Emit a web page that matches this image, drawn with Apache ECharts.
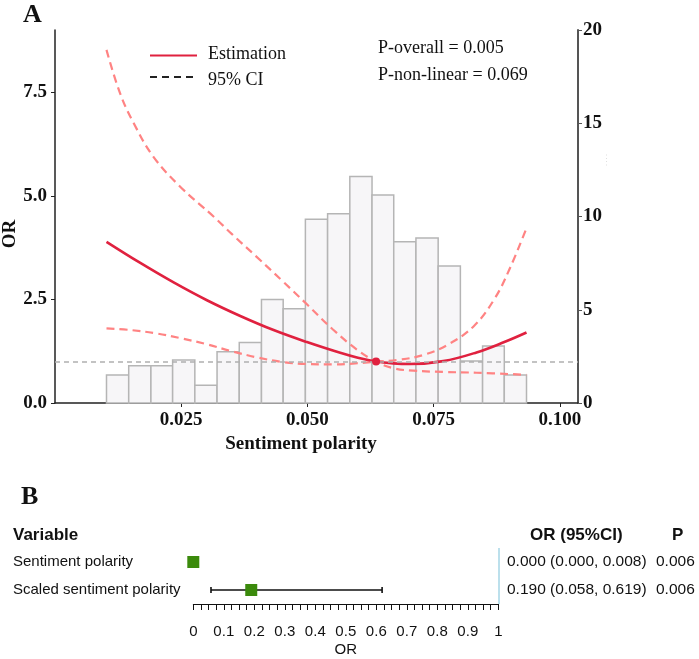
<!DOCTYPE html>
<html>
<head>
<meta charset="utf-8">
<script src="https://cdn.jsdelivr.net/npm/echarts@6/dist/echarts.min.js"></script>
<style>
  html, body { margin: 0; padding: 0; background: #fff; }
  #chart { width: 699px; height: 659px; }
</style>
</head>
<body>
<div id="chart"></div>
<script>
// panel A: restricted cubic spline estimate
const estX = [0.0102, 0.0169, 0.0235, 0.0301, 0.0367, 0.0433, 0.0499, 0.0565, 0.0600, 0.0636, 0.0670, 0.0703, 0.0769, 0.0835, 0.0890, 0.0934];
const estY = [3.89, 3.38, 2.91, 2.48, 2.10, 1.76, 1.47, 1.21, 1.09, 1.00, 0.955, 0.94, 1.01, 1.22, 1.47, 1.70];

// the two 95% CI bounds (they cross at the reference point)
const ciAX = [0.0102, 0.0129, 0.0156, 0.0195, 0.0248, 0.0314, 0.0350, 0.0400, 0.0450, 0.0500, 0.0550, 0.0600, 0.0636, 0.0670, 0.0710, 0.0769, 0.0835, 0.0934];
const ciAY = [8.52, 7.47, 6.75, 5.94, 5.22, 4.50, 4.08, 3.52, 2.95, 2.37, 1.78, 1.27, 1.00, 0.84, 0.78, 0.75, 0.73, 0.68];
const ciBX = [0.0102, 0.0150, 0.0200, 0.0250, 0.0300, 0.0350, 0.0400, 0.0450, 0.0500, 0.0550, 0.0600, 0.0636, 0.0680, 0.0730, 0.0780, 0.0830, 0.0870, 0.0900, 0.0934];
const ciBY = [1.80, 1.76, 1.68, 1.56, 1.42, 1.25, 1.10, 0.99, 0.94, 0.93, 0.96, 1.00, 1.04, 1.16, 1.42, 1.86, 2.50, 3.22, 4.22];
const refPoint = [0.0636, 1.0];

// histogram of sentiment polarity (right axis)
const binEdges = [0.0102, 0.0146, 0.0190, 0.0233, 0.0277, 0.0321, 0.0365, 0.0409, 0.0452, 0.0496, 0.0540,
                  0.0584, 0.0628, 0.0671, 0.0715, 0.0759, 0.0803, 0.0847, 0.0890, 0.0934];
const binCounts = [1.5, 2.0, 2.0, 2.3, 0.95, 2.75, 3.25, 5.55, 5.05, 9.85, 10.15, 12.15, 11.15, 8.65, 8.85, 7.35, 2.25, 3.05, 1.5];

const xTicks = [0.025, 0.050, 0.075, 0.100];
const leftTicks = [0, 2.5, 5, 7.5];

// panel B: forest plot
const variables = ['Sentiment polarity', 'Scaled sentiment polarity'];
const orValues = [0.000, 0.190];
const ciLow = [0.000, 0.058];
const ciHigh = [0.008, 0.619];
const pValues = ['0.006', '0.006'];

const serif = 'Liberation Serif, Times New Roman, serif';
const sans = 'Liberation Sans, Arial, sans-serif';
const pairs = (xs, ys) => xs.map((x, i) => [x, ys[i]]);
const rowVal = i => 3 - 2 * i;
const isMult = (v, step) => Math.abs(v / step - Math.round(v / step)) < 1e-6;

const chart = echarts.init(document.getElementById('chart'));

const ciStyle = { color: '#ff8383', width: 2.2, type: [8, 5] };

const option = {
  animation: false,
  grid: [
    { left: 55, top: 30, width: 523, height: 373 },
    { left: 193.3, top: 548, width: 305, height: 56 }
  ],
  xAxis: [
    {
      type: 'value', gridIndex: 0, min: 0, max: 0.1036, interval: 0.025,
      axisLine: { show: true, onZero: false, lineStyle: { color: '#222', width: 1.5 } },
      axisTick: { show: true, length: 4, lineStyle: { color: '#222' }, customValues: xTicks },
      axisLabel: {
        customValues: xTicks,
        formatter: v => (v > 0 && isMult(v, 0.025)) ? v.toFixed(3) : '',
        fontFamily: serif, fontWeight: 'bold', fontSize: 19, color: '#111', margin: 8
      },
      splitLine: { show: false }
    },
    {
      type: 'value', gridIndex: 1, min: 0, max: 1, interval: 0.025,
      axisLine: { show: true, onZero: false, lineStyle: { color: '#111', width: 1 } },
      axisTick: { show: true, length: 6, lineStyle: { color: '#111', width: 1 } },
      axisLabel: {
        formatter: v => isMult(v, 0.1) ? String(+v.toFixed(1)) : '',
        fontFamily: sans, fontSize: 15, color: '#111', margin: 20
      },
      splitLine: { show: false },
      name: 'OR', nameLocation: 'middle', nameGap: 38,
      nameTextStyle: { fontFamily: sans, fontSize: 15, color: '#111' }
    }
  ],
  yAxis: [
    {
      type: 'value', gridIndex: 0, position: 'left', min: 0, max: 9, interval: 2.5,
      axisLine: { show: true, lineStyle: { color: '#222', width: 1.5 } },
      axisTick: { show: true, length: 4, lineStyle: { color: '#222' }, customValues: leftTicks },
      axisLabel: {
        customValues: leftTicks,
        formatter: v => isMult(v, 2.5) ? v.toFixed(1) : '',
        fontFamily: serif, fontWeight: 'bold', fontSize: 19, color: '#111', margin: 8
      },
      splitLine: { show: false }
    },
    {
      type: 'value', gridIndex: 0, position: 'right', min: 0, max: 20, interval: 5,
      axisLine: { show: true, lineStyle: { color: '#555', width: 2 } },
      axisTick: { show: true, length: 4, lineStyle: { color: '#555' } },
      axisLabel: {
        fontFamily: serif, fontWeight: 'bold', fontSize: 19, color: '#111', margin: 5
      },
      splitLine: { show: false }
    },
    {
      type: 'value', gridIndex: 1, min: 0, max: 4, show: false
    }
  ],
  series: [
    {
      name: 'Histogram', type: 'custom', xAxisIndex: 0, yAxisIndex: 1, z: 1,
      data: binCounts.map((c, i) => [binEdges[i], binEdges[i + 1], c]),
      encode: { x: [0, 1], y: 2 },
      renderItem: (params, api) => {
        const p0 = api.coord([api.value(0), 0]);
        const p1 = api.coord([api.value(1), api.value(2)]);
        return {
          type: 'rect',
          shape: { x: p0[0], y: p1[1], width: p1[0] - p0[0], height: p0[1] - p1[1] },
          style: { fill: '#f7f6f8', stroke: '#b5b5b5', lineWidth: 1.5 }
        };
      }
    },
    {
      name: '95% CI upper', type: 'line', xAxisIndex: 0, yAxisIndex: 0, z: 3,
      data: pairs(ciAX, ciAY), smooth: 0.4, symbol: 'none', lineStyle: ciStyle
    },
    {
      name: '95% CI lower', type: 'line', xAxisIndex: 0, yAxisIndex: 0, z: 3,
      data: pairs(ciBX, ciBY), smooth: 0.4, symbol: 'none', lineStyle: ciStyle
    },
    {
      name: 'Estimation', type: 'line', xAxisIndex: 0, yAxisIndex: 0, z: 4,
      data: pairs(estX, estY), smooth: 0.4, symbol: 'none',
      lineStyle: { color: '#e0213f', width: 2.6 },
      markLine: {
        silent: true, symbol: 'none', label: { show: false },
        lineStyle: { color: '#b0b0b0', width: 1.5, type: [5, 4] },
        data: [{ yAxis: 1 }]
      }
    },
    {
      name: 'Reference', type: 'scatter', xAxisIndex: 0, yAxisIndex: 0, z: 5,
      data: [refPoint], symbolSize: 8, itemStyle: { color: '#e0213f', opacity: 1 }
    },
    {
      name: 'CI bars', type: 'custom', xAxisIndex: 1, yAxisIndex: 2, z: 2,
      data: orValues.map((v, i) => [ciLow[i], ciHigh[i], rowVal(i)]),
      encode: { x: [0, 1], y: 2 },
      renderItem: (params, api) => {
        const a = api.coord([api.value(0), api.value(2)]);
        const b = api.coord([api.value(1), api.value(2)]);
        const st = { stroke: '#111', lineWidth: 1.6 };
        return {
          type: 'group',
          children: [
            { type: 'line', shape: { x1: a[0], y1: a[1], x2: b[0], y2: b[1] }, style: st },
            { type: 'line', shape: { x1: a[0], y1: a[1] - 3, x2: a[0], y2: a[1] + 3 }, style: st },
            { type: 'line', shape: { x1: b[0], y1: b[1] - 3, x2: b[0], y2: b[1] + 3 }, style: st }
          ]
        };
      }
    },
    {
      name: 'OR', type: 'scatter', xAxisIndex: 1, yAxisIndex: 2, z: 4,
      data: orValues.map((v, i) => [v, rowVal(i)]),
      symbol: 'rect', symbolSize: 12, itemStyle: { color: '#3b8a0c', opacity: 1 },
      markLine: {
        silent: true, symbol: 'none', label: { show: false },
        lineStyle: { color: '#a6d6e6', width: 1.5, type: 'solid' },
        data: [{ xAxis: 1 }]
      }
    }
  ]
};

chart.setOption(option);

// texts and legend, rows placed through the forest plot's own axis
const rowY = variables.map((v, i) => chart.convertToPixel({ yAxisIndex: 2 }, rowVal(i)));
const txt = (x, y, text, font, extra) => ({
  type: 'text', x: x, y: y,
  style: Object.assign({ text: text, font: font, fill: '#111', textVerticalAlign: 'middle' }, extra || {})
});

const graphics = [
  txt(23, 15, 'A', 'bold 26px ' + serif),
  txt(10, 234, 'OR', 'bold 19px ' + serif, { textAlign: 'center' }),
  txt(301, 444, 'Sentiment polarity', 'bold 19px ' + serif, { textAlign: 'center' }),
  txt(378, 48, 'P-overall = 0.005', '18px ' + serif),
  txt(378, 75, 'P-non-linear = 0.069', '18px ' + serif),
  txt(208, 54, 'Estimation', '18px ' + serif),
  txt(208, 80, '95% CI', '18px ' + serif),
  { type: 'line', shape: { x1: 150, y1: 55.5, x2: 197, y2: 55.5 }, style: { stroke: '#e0213f', lineWidth: 2 } },
  { type: 'line', shape: { x1: 150, y1: 77, x2: 197, y2: 77 }, style: { stroke: '#222', lineWidth: 2, lineDash: [7, 5] } },
  txt(605, 160, '. . . .', '6px ' + sans, { fill: '#999', textAlign: 'center' }),
  txt(21, 497, 'B', 'bold 26px ' + serif),
  txt(13, 535, 'Variable', 'bold 17px ' + sans),
  txt(530, 535, 'OR (95%CI)', 'bold 17px ' + sans),
  txt(672, 535, 'P', 'bold 17px ' + sans)
];
graphics[1].rotation = Math.PI / 2;
graphics[9].rotation = Math.PI / 2;

variables.forEach((name, i) => {
  const y = rowY[i];
  graphics.push(txt(13, y, name, '15px ' + sans));
  const orText = orValues[i].toFixed(3) + ' (' + ciLow[i].toFixed(3) + ', ' + ciHigh[i].toFixed(3) + ')';
  graphics.push(txt(507, y, orText, '15.5px ' + sans));
  graphics.push(txt(656, y, pValues[i], '15.5px ' + sans));
});

chart.setOption({ graphic: graphics });
</script>
</body>
</html>
